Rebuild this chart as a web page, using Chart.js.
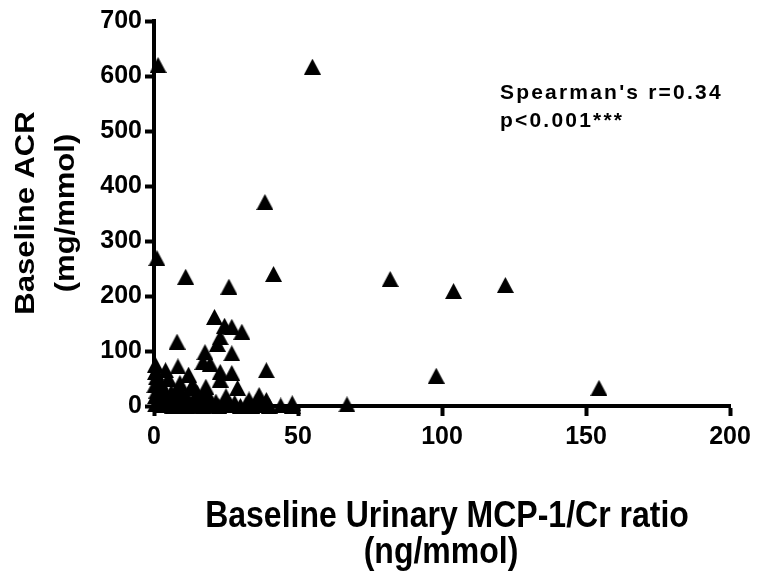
<!DOCTYPE html>
<html>
<head>
<meta charset="utf-8">
<script src="https://cdn.jsdelivr.net/npm/chart.js@4.4.1/dist/chart.umd.min.js"></script>
<style>
	html, body { margin:0; padding:0; background:#fff; }
	#wrap { width:757px; height:572px; }
</style>
</head>
<body>
<div id="wrap"><canvas id="acr_graph" width="757" height="572"></canvas></div>
<script>
// baseline urinary MCP-1/Cr ratio (ng/mmol)
const mcpRatio = [
	1.4, 55, 38.5, 1, 11, 26, 41.5, 82, 104, 122, 98, 154.5, 67, 48,
	21, 24.5, 27, 30.5, 8, 23, 22, 17.7, 27, 19.5, 17, 8.3, 39, 27, 23, 12,
	4, 0.5, 2, 23, 9, 13, 18, 8.3, 14, 18, 29, 36.5, 39, 6, 15, 10, 48,
	0.5, 0.8, 0.3, 1, 0.5, 2, 3, 5,
	0.5, 1.5, 3, 4, 5, 6.5, 7.5, 9, 10.5, 11.5, 12.5, 14, 15.5, 17, 18.5, 20,
	21.5, 22.5, 24, 25.5, 26.5, 28, 30, 32, 34, 35.5, 37, 40, 44,
	2.5, 7, 11, 16, 19, 25, 33
]
// baseline ACR (mg/mmol)
const acr = [
	620, 617, 371, 269, 235, 217, 240, 231, 209, 220, 55, 33, 3, 0,
	162, 146, 144, 135, 117, 125, 113, 98, 96, 77, 80, 72, 65, 60, 62, 57,
	65, 62, 45, 48, 42, 35, 35, 29, 33, 27, 33, 20, 11, 25, 24, 20, 5,
	75, 52, 38, 28, 18, 10, 35, 50,
	3, 8, 2, 12, 5, 0, 9, 3, 12, 0, 6, 2, 10, 0, 5, 2,
	8, 0, 4, 10, 1, 6, 0, 3, 0, 8, 2, 0, 1,
	20, 15, 18, 14, 16, 18, 12
]
const xTicks = [0, 50, 100, 150, 200]
const yTicks = [0, 100, 200, 300, 400, 500, 600, 700]

const xTitle = ['Baseline Urinary MCP-1/Cr ratio', '(ng/mmol)']
const yTitle = ['Baseline ACR', '(mg/mmol)']
const note = ["Spearman's r=0.34", 'p<0.001***']

const FONT = "Arial, 'Liberation Sans', sans-serif"

// filled triangle marker, a bit taller than equilateral like the original
function makeTriangle(){
	const c = document.createElement('canvas')
	c.width = 17
	c.height = 16
	const g = c.getContext('2d')
	g.fillStyle = '#000'
	g.beginPath()
	g.moveTo(8.5, 0)
	g.lineTo(17, 16)
	g.lineTo(0, 16)
	g.closePath()
	g.fill()
	return c
}

const points = mcpRatio.map((x, i) => ({ x, y:acr[i] }))

// the original text looks a little squeezed sideways, so titles get a scale
const textPlugin = {
	id:'textPlugin',
	afterDraw(chart){
		const ctx = chart.ctx
		ctx.save()
		ctx.fillStyle = '#000'
		ctx.textBaseline = 'alphabetic'
		ctx.textAlign = 'center'

		// x axis title
		ctx.font = `bold 32px ${FONT}`
		ctx.save()
		ctx.translate(447, 527)
		ctx.scale(1, 1.15)
		ctx.fillText(xTitle[0], 0, 0)
		ctx.restore()
		ctx.save()
		ctx.translate(441, 563)
		ctx.scale(1, 1.15)
		ctx.fillText(xTitle[1], 0, 0)
		ctx.restore()

		// y axis title
		ctx.font = `bold 31px ${FONT}`
		ctx.save()
		ctx.translate(34, 213)
		ctx.rotate(-Math.PI / 2)
		ctx.scale(1, 0.9)
		ctx.fillText(yTitle[0], 0, 0)
		ctx.restore()
		ctx.save()
		ctx.translate(74, 213)
		ctx.rotate(-Math.PI / 2)
		ctx.scale(1, 0.9)
		ctx.fillText(yTitle[1], 0, 0)
		ctx.restore()

		// correlation note
		ctx.font = `bold 21px ${FONT}`
		ctx.textAlign = 'left'
		ctx.letterSpacing = '2.2px'
		ctx.fillText(note[0], 500, 99)
		ctx.fillText(note[1], 500, 127)
		ctx.restore()
	}
}

new Chart(document.getElementById('acr_graph'), {
	type:'scatter',
	data:{
		datasets:[
			{
				label:'ACR',
				data:points,
				pointStyle:makeTriangle(),
				pointRadius:9,
				clip:false
			}
		]
	},
	options:{
		responsive:false,
		devicePixelRatio:1,
		animation:false,
		layout:{ padding:{ left:0, top:21, right:27, bottom:0 } },
		plugins:{
			legend:{ display:false },
			tooltip:{ enabled:false }
		},
		scales:{
			x:{
				type:'linear',
				min:0,
				max:200,
				afterFit: scale => { scale.height = 166 },
				afterBuildTicks: scale => { scale.ticks = xTicks.map(value => ({ value })) },
				border:{ display:true, width:4, color:'#000' },
				grid:{ drawOnChartArea:false, tickLength:10, tickWidth:4, tickColor:'#000' },
				ticks:{ color:'#000', padding:6, font:{ family:FONT, size:25, weight:'bold' } }
			},
			y:{
				type:'linear',
				min:0,
				max:700,
				afterFit: scale => { scale.width = 154 },
				afterBuildTicks: scale => { scale.ticks = yTicks.map(value => ({ value })) },
				border:{ display:true, width:4, color:'#000' },
				grid:{ drawOnChartArea:false, tickLength:9, tickWidth:4, tickColor:'#000' },
				ticks:{ color:'#000', padding:3, font:{ family:FONT, size:25, weight:'bold' } }
			}
		}
	},
	plugins:[textPlugin]
})
</script>
</body>
</html>
